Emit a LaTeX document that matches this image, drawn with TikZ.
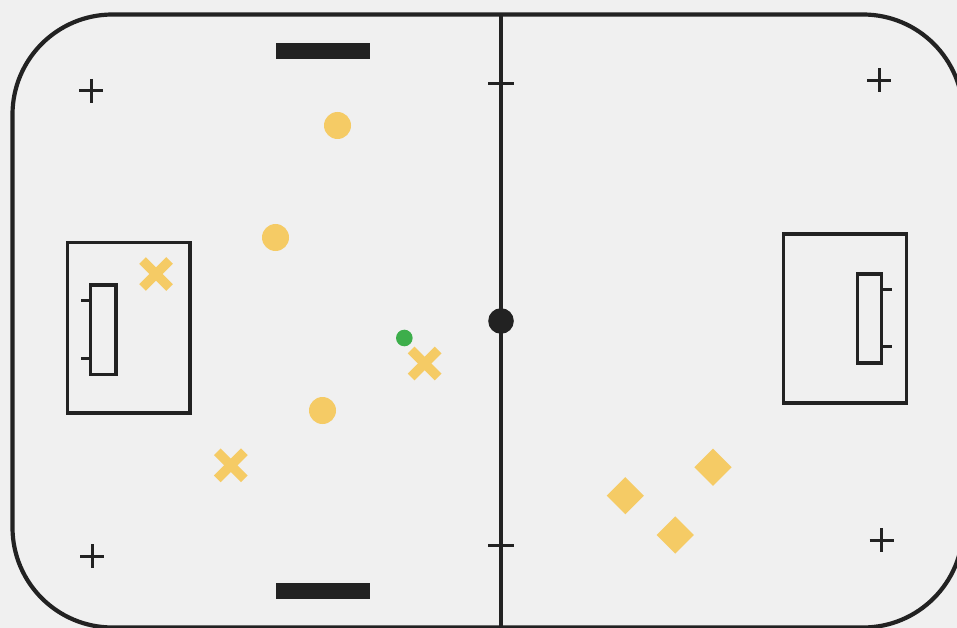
\documentclass[tikz,border=0pt]{standalone}
\definecolor{bg}{HTML}{F0F0F0}
\definecolor{ink}{HTML}{222222}
\definecolor{gold}{HTML}{F5CB65}
\definecolor{puck}{HTML}{3DAE4B}
\tikzset{
  rinkline/.style={draw=ink, line width=4.2pt},
  midline/.style={draw=ink, line width=4.8pt},
  markline/.style={draw=ink, line width=3pt},
  boxline/.style={draw=ink, line width=3.4pt},
  bench/.style={fill=ink},
  circ/.style={fill=gold},
  xarm/.style={draw=gold, line width=9.5pt},
  diam/.style={fill=gold},
}
\begin{document}
\begin{tikzpicture}[x=1pt,y=-1pt]
\useasboundingbox (0,0) rectangle (957,628);
\fill[bg] (0,0) rectangle (957,628);
\clip (0,0) rectangle (957,628);
% rink
\draw[rinkline, rounded corners=100pt] (12.5,14.5) rectangle (963,627.5);
% center line
\draw[midline] (501,14.5) -- (501,628);
\draw[markline] (488,84) -- (514,84);
\draw[markline] (488,545) -- (514,545);
\fill[ink] (501,321) circle (12.8);
% benches
\fill[bench] (275.7,43.5) rectangle (370,59.3);
\fill[bench] (275.7,583.3) rectangle (370,599);
% face-off crosses
\foreach \cx/\cy in {91/91, 879/80.5, 92/556, 881.5/540}{
  \draw[markline] (\cx-12,\cy) -- (\cx+12,\cy);
  \draw[markline] (\cx,\cy-12) -- (\cx,\cy+12);
}
% left crease and goal
\draw[boxline] (67.2,242.7) rectangle (189.8,412.8);
\draw[boxline] (90.5,285) rectangle (116,374.5);
\draw[boxline] (81,300.7) -- (90.5,300.7);
\draw[boxline] (81,358.7) -- (90.5,358.7);
% right crease and goal
\draw[boxline] (783.2,233.8) rectangle (906.2,403);
\draw[boxline] (857.2,274) rectangle (881.5,362.8);
\draw[boxline] (881.5,289.3) -- (891.5,289.3);
\draw[boxline] (881.5,346.7) -- (891.5,346.7);
% circles
\foreach \cx/\cy in {337.5/125.5, 275.5/237.5, 322.5/410.5}{
  \fill[circ] (\cx,\cy) circle (13.5);
}
% crosses
\foreach \cx/\cy in {156/274, 424.7/363.5, 230.8/465.3}{
  \draw[xarm] (\cx-13.5,\cy-13.5) -- (\cx+13.5,\cy+13.5);
  \draw[xarm] (\cx-13.5,\cy+13.5) -- (\cx+13.5,\cy-13.5);
}
% diamonds
\foreach \cx/\cy in {625.3/495.7, 713/467.3, 675.2/535}{
  \fill[diam] (\cx-18.6,\cy) -- (\cx,\cy-18.6) -- (\cx+18.6,\cy) -- (\cx,\cy+18.6) -- cycle;
}
% ball
\fill[puck] (404.3,338) circle (8.3);
\end{tikzpicture}
\end{document}
